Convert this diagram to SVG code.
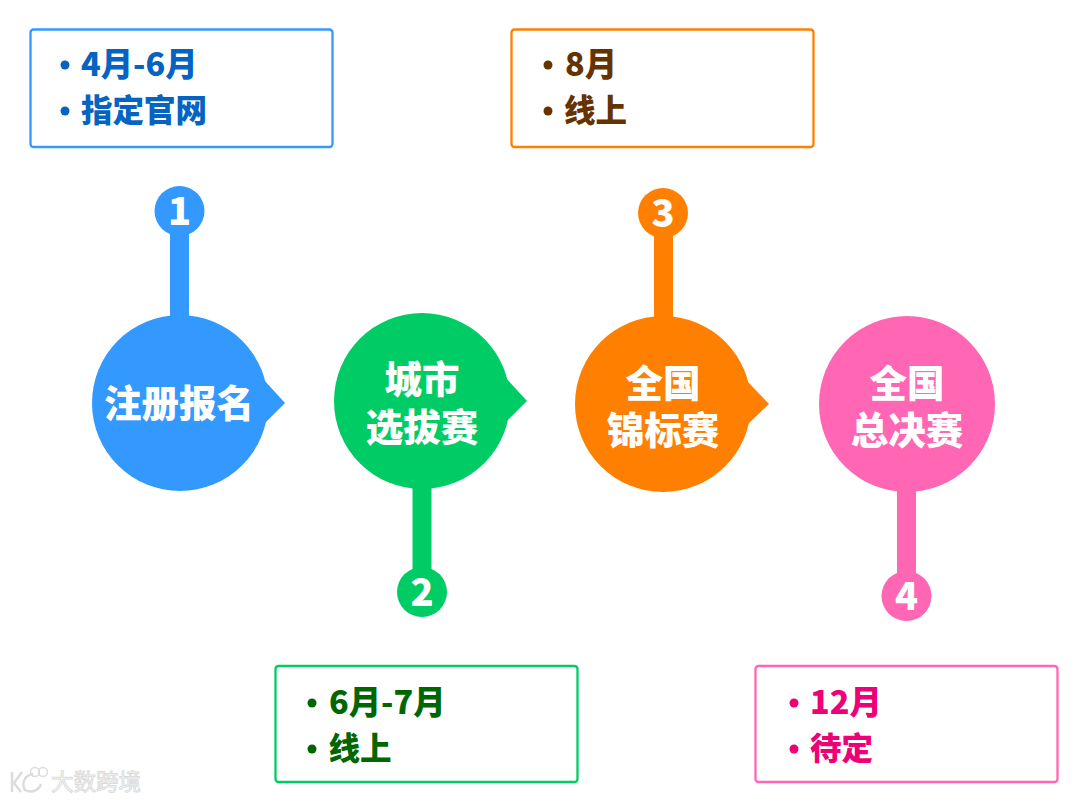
<svg xmlns="http://www.w3.org/2000/svg" width="1080" height="802" viewBox="0 0 1080 802">
<style>
text{font-family:"Noto Sans CJK SC","Noto Sans",sans-serif;font-weight:900}
.box{fill:#fff;stroke-width:2.300}
.t{font-size:31.5px}
.l{font-size:32.400px}
.m{font-size:37.500px;fill:#fff;text-anchor:middle}
.n{font-size:38px;fill:#fff;text-anchor:middle}
.blue{fill:#3399ff}.green{fill:#00cc66}.orange{fill:#ff8000}.pink{fill:#ff66b3}
</style>
<rect width="1080" height="802" fill="#fff"/>
<g id="connectors">
<rect class="blue" x="170" y="225" width="19" height="100"/>
<rect class="green" x="412.500" y="480" width="19" height="100"/>
<rect class="orange" x="654" y="228" width="19" height="100"/>
<rect class="pink" x="897" y="482" width="19" height="100"/>
</g>
<g id="box1"><rect class="box" x="30.500" y="29.500" width="302" height="117.500" rx="3" stroke="#3399ff"/>
<g fill="#0563c1"><circle cx="65" cy="65" r="4.500"/><text class="l" x="81" y="76">4月-6月</text><circle cx="65" cy="111" r="4.500"/><text class="t" x="81" y="122">指定官网</text></g></g>
<g id="box3"><rect class="box" x="511.500" y="29.500" width="302" height="117.500" rx="3" stroke="#ff8000"/>
<g fill="#663300"><circle cx="548" cy="65" r="4.500"/><text class="l" x="565" y="76">8月</text><circle cx="548" cy="111" r="4.500"/><text class="t" x="564" y="122">线上</text></g></g>
<g id="box2"><rect class="box" x="275.500" y="666" width="302" height="116" rx="3" stroke="#00cc66"/>
<g fill="#006600"><circle cx="312" cy="703" r="4.500"/><text class="l" x="329" y="714">6月-7月</text><circle cx="312" cy="749" r="4.500"/><text class="t" x="328.500" y="760">线上</text></g></g>
<g id="box4"><rect class="box" x="755.500" y="666" width="302" height="116" rx="3" stroke="#ff66b3"/>
<g fill="#ee0077"><circle cx="794" cy="703" r="4.500"/><text class="l" x="810" y="714">12月</text><circle cx="794" cy="749" r="4.500"/><text class="t" x="810" y="760">待定</text></g></g>
<g id="node1"><circle class="blue" cx="180" cy="403" r="88"/><path class="blue" d="M264 380L285 403L264 424Z"/><text class="m" x="179" y="417">注册报名</text></g>
<g id="num1"><circle class="blue" cx="179.500" cy="211" r="25"/><text class="n" x="179.500" y="225">1</text></g>
<g id="node2"><circle class="green" cx="422" cy="401" r="88"/><path class="green" d="M506 378L527 401L506 422Z"/><text class="m" x="422" y="393">城市</text><text class="m" x="422" y="441">选拔赛</text></g>
<g id="num2"><circle class="green" cx="422" cy="592" r="25"/><text class="n" x="422" y="606">2</text></g>
<g id="node3"><circle class="orange" cx="663" cy="404" r="88"/><path class="orange" d="M747 381L769 404L747 425Z"/><text class="m" x="663" y="397">全国</text><text class="m" x="663" y="444">锦标赛</text></g>
<g id="num3"><circle class="orange" cx="663" cy="213" r="25"/><text class="n" x="663" y="227">3</text></g>
<g id="node4"><circle class="pink" cx="907" cy="404" r="88"/><text class="m" x="907" y="397">全国</text><text class="m" x="907" y="444">总决赛</text></g>
<g id="num4"><circle class="pink" cx="906.500" cy="596" r="25"/><text class="n" x="906.500" y="610">4</text></g>
<g id="watermark" fill="#fff" stroke="#dcdcdc" stroke-width="1">
<text x="51" y="790" font-size="22.500" style="font-weight:400">大数跨境</text>
<path d="M12 772V792M14 783L22 772M14 783L21 792M33 774A10.500 10.500 0 0 0 25 790A11 11 0 0 0 41 784" fill="none" stroke-width="2.500"/>
<circle cx="35" cy="772" r="4.500" fill="none" stroke-width="1.500"/><circle cx="43" cy="772" r="4.500" fill="none" stroke-width="1.500"/>
</g>
</svg>
